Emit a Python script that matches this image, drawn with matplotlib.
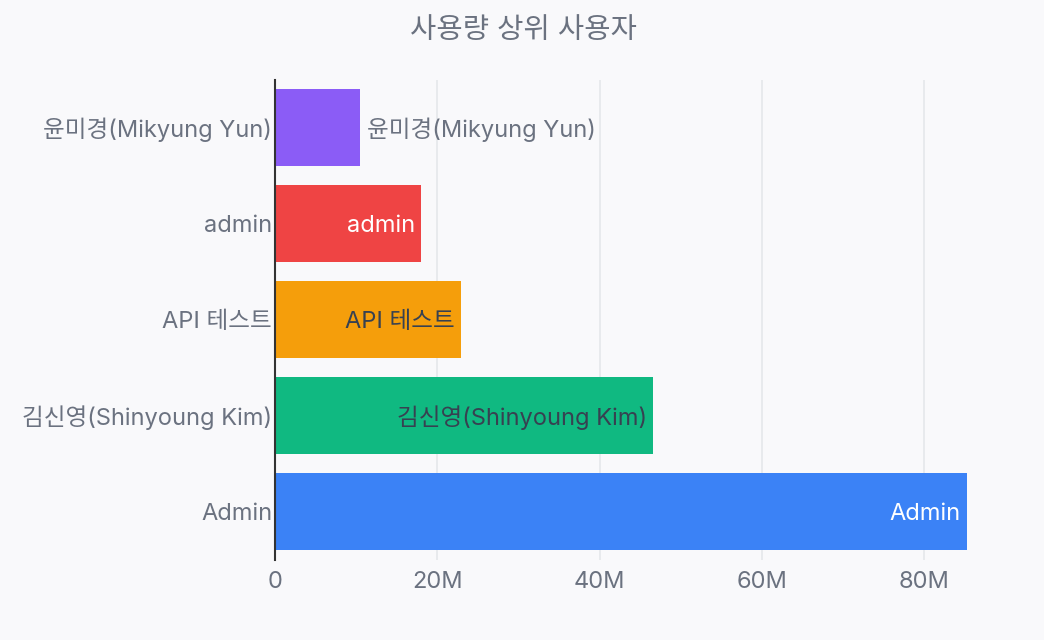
import matplotlib
matplotlib.use("Agg")
import matplotlib.pyplot as plt
from matplotlib.ticker import FuncFormatter

plt.rcParams['font.family'] = ['Inter', 'Noto Sans CJK KR', 'DejaVu Sans']

# top to bottom
users = ["윤미경(Mikyung Yun)", "admin", "API 테스트", "김신영(Shinyoung Kim)", "Admin"]
usage = [10.47e6, 17.99e6, 22.92e6, 46.58e6, 85.27e6]
colors = ["#8b5cf6", "#ef4444", "#f59e0b", "#10b981", "#3b82f6"]
label_colors = ["#6b7280", "#ffffff", "#374151", "#374151", "#ffffff"]
label_inside = [False, True, True, True, True]
xticks = [0, 20e6, 40e6, 60e6, 80e6]

bg = "#f9f9fb"
fs = 17
fig = plt.figure(figsize=(10.44, 6.4), dpi=100, facecolor=bg)
ax = fig.add_axes([275 / 1044, 80.5 / 640, 692 / 1044, 480 / 640], facecolor=bg)

ys = list(range(len(users)))
ax.barh(ys, usage, height=0.8, color=colors, zorder=3)
ax.set_ylim(len(users) - 0.5, -0.5)
ax.set_xlim(0, max(usage))

for y, v, name, c, inside in zip(ys, usage, users, label_colors, label_inside):
    if inside:
        ax.annotate(name, (v, y), xytext=(-4.5, 0), textcoords="offset points",
                    ha="right", va="center_baseline", color=c, fontsize=fs, zorder=4)
    else:
        ax.annotate(name, (v, y), xytext=(5, 0), textcoords="offset points",
                    ha="left", va="center_baseline", color=c, fontsize=fs, zorder=4)

ax.set_yticks(ys)
ax.set_yticklabels(users)
ax.set_xticks(xticks)
ax.xaxis.set_major_formatter(FuncFormatter(lambda v, p: "0" if v == 0 else "%dM" % (v / 1e6)))
ax.tick_params(axis="both", length=0, labelsize=fs, labelcolor="#6b7280")
ax.tick_params(axis="x", pad=8)
ax.tick_params(axis="y", pad=2)

ax.grid(axis="x", color="#e5e7eb", linewidth=1.2, zorder=0)
for s in ["top", "right", "bottom"]:
    ax.spines[s].set_visible(False)
ax.spines["left"].set_color("#333333")
ax.spines["left"].set_linewidth(1.5)
ax.spines["left"].set_zorder(5)

fig.text(523 / 1044, 1 - 30 / 640, "사용량 상위 사용자", ha="center", va="center",
         fontsize=20.6, color="#6b7280")

fig.savefig("out.png", dpi=100, facecolor=bg)
